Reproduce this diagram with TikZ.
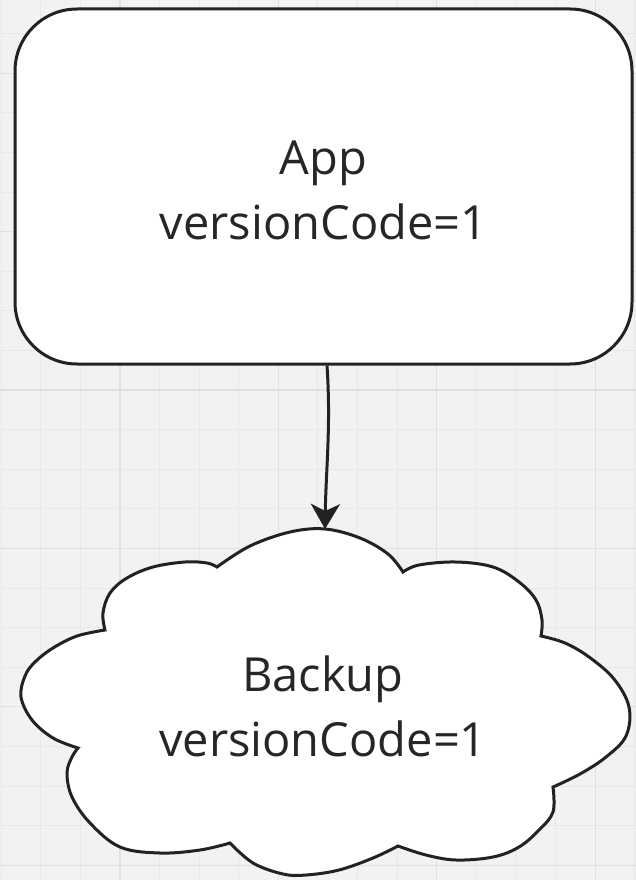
\documentclass[tikz,border=0pt]{standalone}
\usepackage{fontspec}
\setmainfont{Open Sans}
\usetikzlibrary{arrows.meta}

\definecolor{canvasbg}{HTML}{F2F2F2}
\definecolor{gridminor}{HTML}{E8E8E8}
\definecolor{gridmajor}{HTML}{E0E0E0}
\definecolor{ink}{HTML}{222222}
\definecolor{textink}{HTML}{262626}

\begin{document}
\begin{tikzpicture}[x=1pt, y=-1pt,
  shapeline/.style={draw=ink, line width=3pt, fill=white, line join=miter},
  boxtext/.style={text=textink, font=\fontsize{47}{65}\selectfont, align=center, inner sep=0pt},
  gridthin/.style={draw=gridminor, line width=1pt},
  gridbold/.style={draw=gridmajor, line width=1.2pt},
  connector/.style={draw=ink, line width=3pt, -{Stealth[length=25pt, width=29pt, inset=7pt]}}
]
\useasboundingbox (0,0) rectangle (636,880);

% canvas with grid
\fill[canvasbg] (0,0) rectangle (636,880);
\foreach \k in {0,...,16} {
  \draw[gridthin] ({1.1+39.6*\k},0) -- ({1.1+39.6*\k},880);
}
\foreach \k in {1,...,22} {
  \draw[gridthin] (0,{-6+39.6*\k}) -- (636,{-6+39.6*\k});
}
\foreach \k in {3,7,11,15} {
  \draw[gridbold] ({1.1+39.6*\k},0) -- ({1.1+39.6*\k},880);
}
\foreach \k in {2,6,10,14,18,22} {
  \draw[gridbold] (0,{-6+39.6*\k}) -- (636,{-6+39.6*\k});
}

% application box
\node[shapeline, rounded corners=62pt, minimum width=617pt, minimum height=355pt,
      boxtext, text height=107pt] (app) at (323.5,186.5) {App\\versionCode=1};

% backup cloud, one smooth lobe between each pair of notches
\path[shapeline] (217,567)
  -- plot[smooth, tension=0.6] coordinates {(217,567) (250,546) (290,532) (325,529) (360,538) (388,554) (403,572)}
  -- plot[smooth, tension=0.6] coordinates {(403,572) (419,565) (456,562) (493,567) (519,582) (536,600) (542,620) (541,636)}
  -- plot[smooth, tension=0.6] coordinates {(541,636) (565,643) (589,657) (614,679) (629,707) (626,736) (606,757) (580,774) (553,787)}
  -- plot[smooth, tension=0.6] coordinates {(553,787) (553,812) (539,830) (519,847) (493,857) (456,860) (426,855) (398,846)}
  -- plot[smooth, tension=0.6] coordinates {(398,846) (373,858) (339,870) (306,875) (283,874) (253,863) (230,843)}
  -- plot[smooth, tension=0.6] coordinates {(230,843) (200,850) (160,853) (120,847) (90,823) (72,797) (67,773) (72,757) (78,748)}
  -- plot[smooth, tension=0.6] coordinates {(78,748) (53,738) (32,720) (21,697) (25,676) (35,662) (53,648) (77,636) (105,630)}
  -- plot[smooth, tension=0.6] coordinates {(105,630) (103,613) (110,593) (127,578) (153,567) (185,562) (207,563) (217,567)}
  -- cycle;
\node[boxtext] (backup) at (323,706) {Backup\\versionCode=1};
\coordinate (cloudtop) at (325,529);

% upload arrow
\draw[connector] ([xshift=3.5pt]app.south) .. controls +(4,60) and +(1,-60) .. (cloudtop);
\end{tikzpicture}
\end{document}
